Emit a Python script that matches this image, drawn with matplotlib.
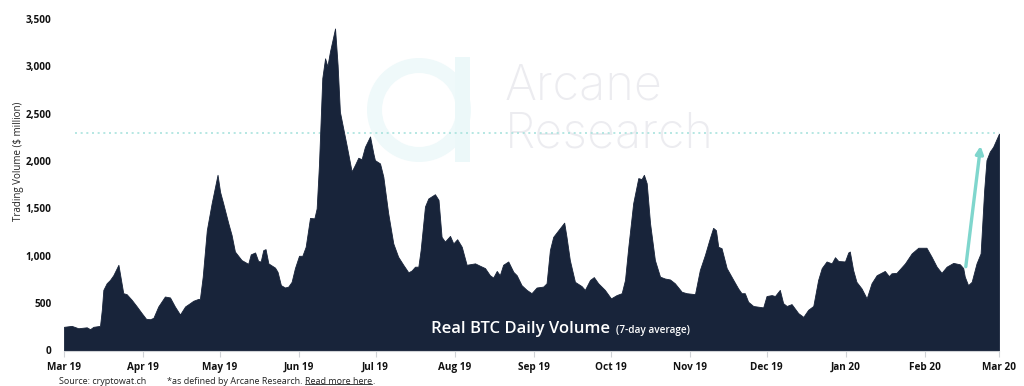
import numpy as np
import matplotlib
matplotlib.use("Agg")
import matplotlib.pyplot as plt
import matplotlib.dates as mdates
from matplotlib.patches import Wedge, Rectangle
from matplotlib.ticker import FuncFormatter
import datetime as dt

plt.rcParams['font.family'] = ['Open Sans', 'DejaVu Sans']

# days since 2019-03-01 and 7-day average volume ($ million)
days = [0, 3.0, 5.6, 8.9, 10.2, 11.5, 14.1, 14.8, 15.4, 16.7, 18.0, 19.3, 21.3, 23.2, 24.5,
        26.5, 28.5, 30.4, 32.1, 33.7, 35.0, 36.9, 39.5, 41.5, 43.4, 45.4, 47.4, 49.3, 50.6,
        52.6, 53.2, 54.3, 55.9, 57.8, 60.1, 61.1, 62.3, 64.3, 65.6, 66.9, 69.5, 72.1, 73.1,
        74.8, 76.0, 77.0, 78.0, 78.9, 80.0, 82.6, 83.6, 84.9, 86.5, 87.8, 89.1, 90.4, 92.0,
        93.3, 94.6, 96.3, 98.0, 98.9, 99.8, 101.1, 102.2, 103.1, 104.1, 106.1, 107.1, 108.0,
        109.3, 110.6, 112.6, 113.9, 115.2, 116.5, 117.8, 119.8, 121.1, 121.7, 123.7, 125.0,
        126.9, 128.9, 130.8, 132.8, 134.8, 136.1, 137.4, 138.7, 139.6, 141.3, 142.6, 145.2,
        146.6, 147.8, 149.1, 151.1, 152.4, 153.9, 155.7, 157.6, 160.9, 162.8, 164.8, 166.7,
        168.0, 169.4, 170.6, 171.9, 173.9, 175.9, 177.2, 179.1, 181.1, 183.0, 185.0, 187.6,
        188.9, 190.2, 191.5, 193.5, 195.8, 196.7, 198.0, 200.0, 202.6, 203.9, 205.9, 207.4,
        209.1, 211.7, 214.1, 216.3, 218.3, 219.6, 220.9, 222.8, 224.8, 226.1, 227.0, 228.1,
        229.4, 231.3, 233.3, 235.2, 237.2, 239.1, 241.8, 243.7, 247.0, 248.9, 250.9, 252.8,
        254.1, 255.2, 256.1, 257.4, 259.4, 262.0, 263.9, 265.2, 266.5, 267.8, 269.8, 273.7,
        275.0, 277.0, 278.3, 280.2, 281.5, 282.9, 284.8, 287.4, 289.4, 291.3, 293.3, 295.2,
        296.6, 298.5, 300.5, 301.8, 303.1, 305.7, 307.0, 307.6, 308.9, 310.2, 312.2, 314.2,
        316.1, 318.1, 321.3, 322.9, 323.9, 325.9, 329.2, 331.8, 334.4, 337.6, 339.6, 341.6,
        343.5, 345.5, 348.1, 350.7, 352.0, 352.6, 353.9, 355.3, 357.2, 358.8, 360.2, 361.1,
        362.4, 363.7, 366.0]
volume = [250, 260, 235, 245, 225, 250, 260, 430, 640, 710, 745, 795, 905, 605, 595,
          535, 465, 395, 335, 330, 345, 465, 570, 560, 465, 380, 465, 500, 525,
          545, 545, 780, 1270, 1555, 1855, 1675, 1555, 1345, 1220, 1045, 955, 915, 1015,
          1035, 945, 940, 1060, 1070, 920, 875, 830, 690, 665, 675, 725, 870, 1000,
          1000, 1095, 1400, 1395, 1500, 1960, 2875, 3085, 3000, 3155, 3400, 3015, 2520,
          2345, 2170, 1890, 1960, 2035, 2020, 2150, 2260, 2080, 2010, 1975, 1835,
          1450, 1130, 990, 905, 825, 845, 885, 885, 1060, 1520, 1605, 1650,
          1590, 1200, 1150, 1210, 1130, 1175, 1095, 905, 920, 895, 870, 795,
          770, 840, 795, 905, 940, 830, 795, 690, 640, 605, 665, 675,
          710, 1060, 1200, 1270, 1350, 1200, 955, 725, 680, 640, 745, 775,
          710, 640, 550, 585, 605, 745, 1095, 1555, 1820, 1810, 1855, 1765,
          1345, 955, 780, 760, 750, 710, 620, 605, 595, 850, 1010, 1185,
          1295, 1270, 1095, 1080, 870, 745, 655, 605, 605, 515, 470, 455,
          575, 585, 575, 640, 500, 470, 490, 395, 355, 430, 470, 745,
          870, 940, 920, 985, 945, 940, 1035, 1045, 850, 725, 655, 550,
          710, 795, 840, 785, 815, 820, 920, 1025, 1085, 1085, 990, 885,
          820, 885, 925, 910, 870, 780, 690, 725, 920, 1025, 1695, 2010,
          2100, 2150, 2290]

month_ticks = ["2019-03-01", "2019-04-01", "2019-05-01", "2019-06-01", "2019-07-01",
               "2019-08-01", "2019-09-01", "2019-10-01", "2019-11-01", "2019-12-01",
               "2020-01-01", "2020-02-01", "2020-03-01"]
y_ticks = [0, 500, 1000, 1500, 2000, 2500, 3000, 3500]
current_level = 2300
arrow_days = (353.0, 358.8)
arrow_vals = (885, 2160)

navy = "#18243a"
teal = "#7fd6cd"

start = mdates.date2num(dt.datetime(2019, 3, 1))
x = start + np.array(days)

fig = plt.figure(figsize=(10.24, 3.86), dpi=100)

# background layer in pixel units for the watermark
bg = fig.add_axes([0, 0, 1, 1], zorder=0)
bg.set_xlim(0, 1024)
bg.set_ylim(386, 0)
bg.axis('off')
bg.add_patch(Wedge((419, 110), 52, 0, 360, width=15, facecolor="#eff9fa", edgecolor='none'))
bg.add_patch(Rectangle((455, 57), 15, 105, facecolor="#ecf8f9", edgecolor='none'))
bg.text(505, 100, "Arcane", fontsize=35, color="#ececf0", family=['Inter', 'DejaVu Sans'],
        weight='light', va='baseline', ha='left')
bg.text(505, 148, "Research", fontsize=35, color="#ececf0", family=['Inter', 'DejaVu Sans'],
        weight='light', va='baseline', ha='left')

ax = fig.add_axes([64 / 1024, 35.5 / 386, 935 / 1024, 331.5 / 386], zorder=1)
ax.set_facecolor('none')
ax.hlines(current_level, start + 4.3, start + 366, colors="#a9e3de", linestyles=(0, (1.2, 2.2)),
          lw=1.2, zorder=1)
ax.fill_between(x, volume, 0, color=navy, lw=0.6, edgecolor=navy, zorder=2)
ax.annotate('', xy=(start + arrow_days[1], arrow_vals[1]), xytext=(start + arrow_days[0], arrow_vals[0]),
            arrowprops=dict(arrowstyle='-|>', color=teal, lw=2.4, mutation_scale=11, shrinkA=0, shrinkB=0),
            zorder=3)

ax.set_xlim(start, start + 366)
ax.set_ylim(0, 3500)
tick_pos = [mdates.date2num(dt.datetime.strptime(t, "%Y-%m-%d")) for t in month_ticks]
ax.set_xticks(tick_pos)
ax.xaxis.set_major_formatter(mdates.DateFormatter('%b %y'))
ax.set_yticks(y_ticks)
ax.yaxis.set_major_formatter(FuncFormatter(lambda v, p: f"{int(v):,}"))

for s in ['top', 'right', 'left']:
    ax.spines[s].set_visible(False)
ax.spines['bottom'].set_color('#cfd2d6')
ax.tick_params(axis='x', length=4, color='#cfd2d6', pad=4, labelsize=7.2)
ax.tick_params(axis='y', length=0, pad=9, labelsize=7.2)
for lab in ax.get_xticklabels() + ax.get_yticklabels():
    lab.set_fontweight('bold')
    lab.set_color('#111111')

ax.set_ylabel("Trading Volume ($ million)", fontsize=7, color='#222222')
ax.yaxis.set_label_coords(-40 / 935, 0.57)

r = fig.canvas.get_renderer()

# title inside the filled area
title = fig.text(431 / 1024, 1 - 329 / 386, "Real BTC Daily Volume", color='white', fontsize=12,
                 weight='semibold', va='center', ha='left')
tb = title.get_window_extent(r)
fig.text((tb.x1 + 6) / 1024, 1 - 330 / 386, "(7-day average)", color='white', fontsize=7.2,
         weight='semibold', va='center', ha='left')

# footer
fig.text(59 / 1024, 1 - 381 / 386, "Source: cryptowat.ch", fontsize=6.5, color='#222222', va='center')
t1 = fig.text(167 / 1024, 1 - 381 / 386, "*as defined by Arcane Research. ", fontsize=6.5,
              color='#222222', va='center')
bb1 = t1.get_window_extent(r)
t2 = fig.text(bb1.x1 / 1024, 1 - 381 / 386, "Read more here", fontsize=6.5, color='#222222', va='center')
bb2 = t2.get_window_extent(r)
fig.text(bb2.x1 / 1024, 1 - 381 / 386, ".", fontsize=6.5, color='#222222', va='center')
uy = (bb2.y0 + 1.5) / 386
fig.add_artist(plt.Line2D([bb2.x0 / 1024, bb2.x1 / 1024], [uy, uy], color='#222222', lw=0.6))

fig.savefig("out.png", dpi=100)
